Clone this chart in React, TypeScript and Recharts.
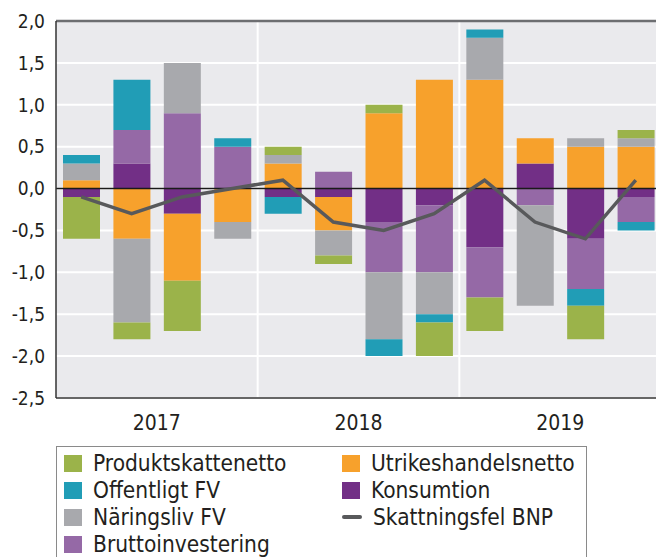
import React from "react";
import {
  ComposedChart, Bar, Line, XAxis, YAxis, CartesianGrid, ReferenceLine,
} from "recharts";

const FONT = "'DejaVu Sans Condensed', 'DejaVu Sans', sans-serif";

const quarters = [
  "2017K1", "2017K2", "2017K3", "2017K4",
  "2018K1", "2018K2", "2018K3", "2018K4",
  "2019K1", "2019K2", "2019K3", "2019K4",
];
const years = ["2017", "2018", "2019"];
const yTicks = [-2.5, -2, -1.5, -1, -0.5, 0, 0.5, 1, 1.5, 2];

// stacked from the zero line outwards in this order
const konsumtion = [-0.1, 0.3, -0.3, 0, -0.1, -0.1, -0.4, -0.2, -0.7, 0.3, -0.6, -0.1];
const utrikes = [0.1, -0.6, -0.8, -0.4, 0.3, -0.4, 0.9, 1.3, 1.3, 0.3, 0.5, 0.5];
const brutto = [0, 0.4, 0.9, 0.5, 0, 0.2, -0.6, -0.8, -0.6, -0.2, -0.6, -0.3];
const naringsliv = [0.2, -1.0, 0.6, -0.2, 0.1, -0.3, -0.8, -0.5, 0.5, -1.2, 0.1, 0.1];
const offentligt = [0.1, 0.6, 0, 0.1, -0.2, 0, -0.2, -0.1, 0.1, 0, -0.2, -0.1];
const produkt = [-0.5, -0.2, -0.6, 0, 0.1, -0.1, 0.1, -0.4, -0.4, 0, -0.4, 0.1];
const skattningsfel = [-0.1, -0.3, -0.1, 0.0, 0.1, -0.4, -0.5, -0.3, 0.1, -0.4, -0.6, 0.1];

const COLORS = {
  produkt: "#9bb34a",
  offentligt: "#219db6",
  naringsliv: "#a8a9ad",
  brutto: "#9569a6",
  utrikes: "#f7a12c",
  konsumtion: "#722f86",
  line: "#58595b",
};

const data = quarters.map((q, i) => ({
  q,
  pos: i + 0.5,
  konsumtion: konsumtion[i],
  utrikes: utrikes[i],
  brutto: brutto[i],
  naringsliv: naringsliv[i],
  offentligt: offentligt[i],
  produkt: produkt[i],
  fel: skattningsfel[i],
}));

const SERIES: [keyof typeof COLORS, string][] = [
  ["konsumtion", "Konsumtion"],
  ["utrikes", "Utrikeshandelsnetto"],
  ["brutto", "Bruttoinvestering"],
  ["naringsliv", "Näringsliv FV"],
  ["offentligt", "Offentligt FV"],
  ["produkt", "Produktskattenetto"],
];

const LEGEND_LEFT: [keyof typeof COLORS, string][] = [
  ["produkt", "Produktskattenetto"],
  ["offentligt", "Offentligt FV"],
  ["naringsliv", "Näringsliv FV"],
  ["brutto", "Bruttoinvestering"],
];
const LEGEND_RIGHT: [keyof typeof COLORS, string][] = [
  ["utrikes", "Utrikeshandelsnetto"],
  ["konsumtion", "Konsumtion"],
  ["line", "Skattningsfel BNP"],
];

const fmt = (v: number) => v.toFixed(1).replace(".", ",");

function LegendItem({ k, label, x, y }: { k: keyof typeof COLORS; label: string; x: number; y: number }) {
  return (
    <div style={{ position: "absolute", left: x, top: y - 14, height: 28, display: "flex", alignItems: "center" }}>
      {k === "line" ? (
        <div style={{ width: 20, height: 4, background: COLORS.line, borderRadius: 2 }} />
      ) : (
        <div style={{ width: 18, height: 17, background: COLORS[k] }} />
      )}
      <span style={{ marginLeft: 11, fontSize: 22.5, color: "#231f20", whiteSpace: "nowrap" }}>{label}</span>
    </div>
  );
}

export default function App() {
  return (
    <div style={{
      position: "absolute", left: 0, top: 0, width: 656, height: 557,
      overflow: "hidden", background: "#fff", fontFamily: FONT,
    }}>
      <ComposedChart
        width={670}
        height={440}
        data={data}
        stackOffset="sign"
        margin={{ top: 21, right: 9, bottom: 0, left: 0 }}
      >
        <CartesianGrid xAxisId="num" vertical={false} stroke="#ffffff" strokeWidth={2} fill="#eaeaed" />
        <XAxis xAxisId="num"
          type="number"
          dataKey="pos"
          domain={[0, 12]}
          allowDataOverflow
          ticks={[2, 6, 10]}
          tickFormatter={(v: number) => years[Math.round((v - 2) / 4)]}
          height={42}
          tickSize={0}
          tickMargin={17}
          tickLine={false}
          axisLine={{ stroke: "#333", strokeWidth: 1.5 }}
          tick={{ fill: "#231f20", fontSize: 21, fontFamily: FONT }}
        />
        <XAxis xAxisId="cat" dataKey="q" hide height={0} />
        <YAxis
          domain={[-2.5, 2]}
          ticks={yTicks}
          width={56}
          tickFormatter={fmt}
          tickSize={0}
          tickMargin={11}
          tickLine={false}
          axisLine={{ stroke: "#333", strokeWidth: 1.5 }}
          tick={{ fill: "#231f20", fontSize: 19, fontFamily: FONT }}
        />
        <ReferenceLine xAxisId="num" x={4} stroke="#ffffff" strokeWidth={2} />
        <ReferenceLine xAxisId="num" x={8} stroke="#ffffff" strokeWidth={2} />
        {SERIES.map(([k, name]) => (
          <Bar
            key={k}
            xAxisId="cat"
            dataKey={k}
            name={name}
            stackId="s"
            fill={COLORS[k]}
            barSize={37}
            isAnimationActive={false}
          />
        ))}
        <ReferenceLine xAxisId="num" y={0} stroke="#1a1a1a" strokeWidth={1.5} />
        <ReferenceLine xAxisId="num" y={2} stroke="#6d6e71" strokeWidth={2.5} />
        <Line
          xAxisId="cat"
          dataKey="fel"
          name="Skattningsfel BNP"
          type="linear"
          stroke={COLORS.line}
          strokeWidth={3.5}
          dot={false}
          isAnimationActive={false}
        />
      </ComposedChart>

      <div style={{
        position: "absolute", left: 56, top: 446, width: 531, height: 130,
        border: "1px solid #8a8a8a", boxSizing: "border-box",
      }} />
      {LEGEND_LEFT.map(([k, label], i) => (
        <LegendItem key={k} k={k} label={label} x={64} y={463 + i * 27} />
      ))}
      {LEGEND_RIGHT.map(([k, label], i) => (
        <LegendItem key={k} k={k} label={label} x={342} y={463 + i * 27} />
      ))}
    </div>
  );
}
